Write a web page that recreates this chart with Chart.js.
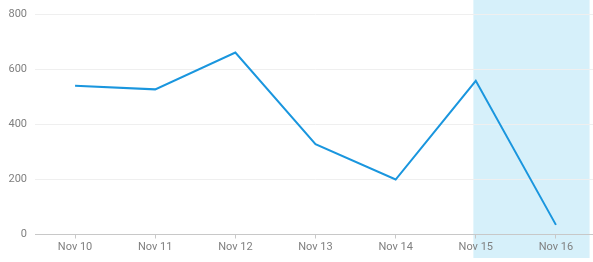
<!DOCTYPE html>
<html>
<head>
<meta charset="utf-8">
<script src="https://cdn.jsdelivr.net/npm/chart.js@4/dist/chart.umd.min.js"></script>
<style>
  html, body { margin: 0; padding: 0; background: #fff; overflow: hidden; }
  #wrap { width: 596px; height: 262px; position: relative; }
</style>
</head>
<body>
<div id="wrap"><canvas id="chart"></canvas></div>
<script>
// data
const labels = ['Nov 10', 'Nov 11', 'Nov 12', 'Nov 13', 'Nov 14', 'Nov 15', 'Nov 16'];
const values = [541, 528, 662, 329, 200, 559, 35];
const yTicks = [0, 200, 400, 600, 800];

// highlighted band, in category units
const bandStart = 4.97;
const bandEnd = 6.42;

// light blue band behind everything
const bandPlugin = {
    id: 'band',
    beforeDraw(chart) {
        const x = chart.scales.x;
        const ctx = chart.ctx;
        const left = x.getPixelForValue(bandStart);
        const right = x.getPixelForValue(bandEnd);
        ctx.save();
        ctx.fillStyle = '#d6f0fa';
        ctx.fillRect(left, 0, right - left, chart.height - 4);
        ctx.restore();
    }
};

new Chart(document.getElementById('chart'), {
    type: 'line',
    data: {
        labels: labels,
        datasets: [{
            data: values,
            borderColor: '#1a96de',
            borderWidth: 2,
            pointRadius: 0,
            tension: 0,
            fill: false
        }]
    },
    options: {
        responsive: true,
        maintainAspectRatio: false,
        animation: false,
        layout: { padding: { top: 14, right: 0, left: 0, bottom: 0 } },
        plugins: {
            legend: { display: false },
            tooltip: { enabled: false }
        },
        scales: {
            x: {
                offset: true,
                grid: {
                    display: true,
                    drawOnChartArea: false,
                    drawTicks: true,
                    tickLength: 4,
                    color: '#c8c8c8'
                },
                border: { color: '#c8c8c8' },
                ticks: {
                    color: '#808080',
                    font: { family: 'Roboto', size: 11 },
                    padding: 2,
                    maxRotation: 0
                },
                afterFit: s => { s.height = 27.5; }
            },
            y: {
                min: 0,
                max: 800,
                afterBuildTicks: s => { s.ticks = yTicks.map(v => ({ value: v })); },
                grid: {
                    color: '#efefef',
                    drawTicks: false
                },
                border: { display: false },
                ticks: {
                    color: '#808080',
                    font: { family: 'Roboto', size: 11 },
                    padding: 8
                },
                afterFit: s => { s.width = 35; }
            }
        }
    },
    plugins: [bandPlugin]
});
</script>
</body>
</html>
